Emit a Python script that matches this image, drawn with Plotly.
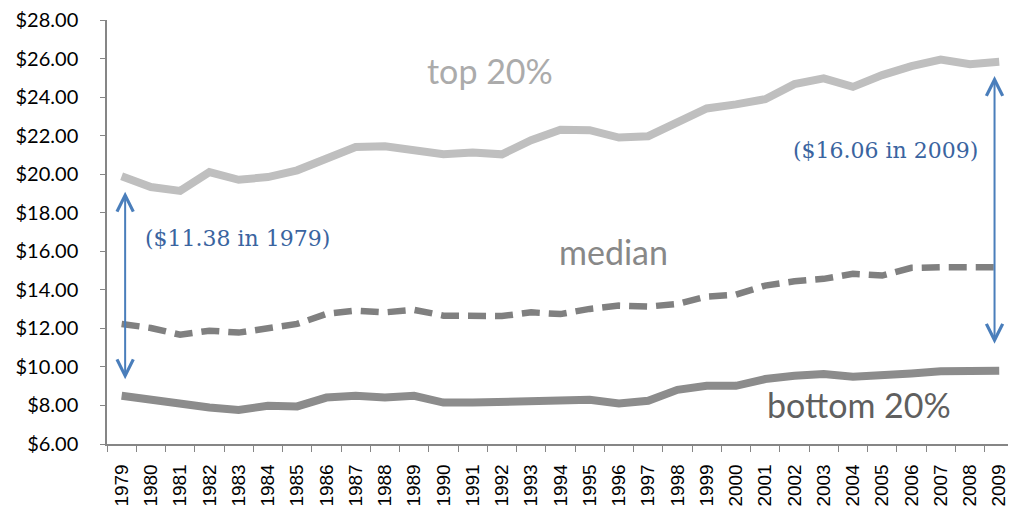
import plotly.graph_objects as go

years = [str(y) for y in range(1979, 2010)]
y_ticks = [6, 8, 10, 12, 14, 16, 18, 20, 22, 24, 26, 28]
y_tick_labels = ["$%.2f" % v for v in y_ticks]

top20 = [19.89, 19.33, 19.13, 20.11, 19.71, 19.85, 20.20, 20.81, 21.41, 21.45,
         21.19, 21.03, 21.12, 21.03, 21.76, 22.30, 22.28, 21.90, 21.97, 22.71,
         23.41, 23.62, 23.89, 24.67, 24.97, 24.53, 25.14, 25.61, 25.95, 25.71, 25.83]
median = [12.23, 12.02, 11.67, 11.88, 11.78, 11.97, 12.23, 12.75, 12.92, 12.83,
          12.96, 12.66, 12.61, 12.64, 12.83, 12.74, 13.01, 13.18, 13.13, 13.27,
          13.65, 13.75, 14.22, 14.44, 14.57, 14.83, 14.74, 15.14, 15.17, 15.14, 15.17]
bottom20 = [8.50, 8.27, 8.07, 7.89, 7.77, 7.98, 7.95, 8.41, 8.50, 8.41,
            8.50, 8.15, 8.15, 8.20, 8.24, 8.24, 8.29, 8.10, 8.24, 8.81,
            9.02, 9.02, 9.37, 9.54, 9.63, 9.49, 9.54, 9.66, 9.77, 9.77, 9.80]

series_labels = ["top 20%", "median", "bottom 20%"]
gap_labels = ["($11.38 in 1979)", "($16.06 in 2009)"]

fig = go.Figure()
fig.add_trace(go.Scatter(x=years, y=top20, mode="lines", name=series_labels[0],
                         line=dict(color="#BFBFBF", width=8)))
fig.add_trace(go.Scatter(x=years, y=median, mode="lines", name=series_labels[1],
                         line=dict(color="#808080", width=6.5, dash="18px,9px")))
fig.add_trace(go.Scatter(x=years, y=bottom20, mode="lines", name=series_labels[2],
                         line=dict(color="#8C8C8C", width=8)))

arrow_color = "#4A7EBB"
text_blue = "#3A64A0"
serif = "DejaVu Serif"

annotations = [
    # double-headed arrows
    dict(x=0.12, y=19.09, ax=0.12, ay=9.28, xref="x", yref="y", axref="x", ayref="y",
         text="", showarrow=True, arrowhead=5, startarrowhead=5, arrowside="end+start",
         arrowsize=1.6, startarrowsize=1.6, arrowwidth=2, arrowcolor=arrow_color,
         standoff=0, startstandoff=0),
    dict(x=29.84, y=25.09, ax=29.84, ay=11.13, xref="x", yref="y", axref="x", ayref="y",
         text="", showarrow=True, arrowhead=5, startarrowhead=5, arrowside="end+start",
         arrowsize=1.6, startarrowsize=1.6, arrowwidth=2, arrowcolor=arrow_color,
         standoff=0, startstandoff=0),
    dict(x=3.95, y=16.64, xref="x", yref="y", text=gap_labels[0], showarrow=False,
         xanchor="center", yanchor="middle",
         font=dict(family=serif, size=22, color=text_blue)),
    dict(x=26.1, y=21.25, xref="x", yref="y", text=gap_labels[1], showarrow=False,
         xanchor="center", yanchor="middle",
         font=dict(family=serif, size=22, color=text_blue)),
    dict(x=12.6, y=25.4, xref="x", yref="y", text=series_labels[0], showarrow=False,
         xanchor="center", yanchor="middle",
         font=dict(family="Lato", size=34, color="#ABABAB")),
    dict(x=16.8, y=16.01, xref="x", yref="y", text=series_labels[1], showarrow=False,
         xanchor="center", yanchor="middle",
         font=dict(family="Lato", size=34, color="#888888")),
    dict(x=25.2, y=8.07, xref="x", yref="y", text=series_labels[2], showarrow=False,
         xanchor="center", yanchor="middle",
         font=dict(family="Lato", size=34, color="#5F5F5F")),
]

# The page body has an 8px margin; size the figure so the page fits the 1016x520 window.
fig.update_layout(
    width=1000, height=504,
    margin=dict(l=99, r=0, t=12, b=68),
    paper_bgcolor="white", plot_bgcolor="white",
    showlegend=False,
    annotations=annotations,
    font=dict(family="Lato", color="#000000"),
)
fig.update_xaxes(
    type="category", range=[-0.5, 30.3], automargin=False,
    tickson="boundaries", ticks="outside", ticklen=6, tickcolor="#868686", tickwidth=1,
    showline=True, linecolor="#868686", linewidth=1.5,
    showgrid=False, zeroline=False,
    tickangle=-90, tickfont=dict(family="Liberation Sans", size=19, color="#000000"),
    ticklabelstandoff=11,
)
fig.update_yaxes(
    range=[6, 28], tickmode="array", tickvals=y_ticks, ticktext=y_tick_labels,
    automargin=False, ticklabeloverflow="allow",
    ticks="outside", ticklen=5, tickcolor="#868686", tickwidth=1,
    showline=True, linecolor="#868686", linewidth=1.5,
    showgrid=False, zeroline=False,
    tickfont=dict(family="Lato", size=20, color="#000000"),
    ticklabelstandoff=18,
)

fig.write_html("out.html")
